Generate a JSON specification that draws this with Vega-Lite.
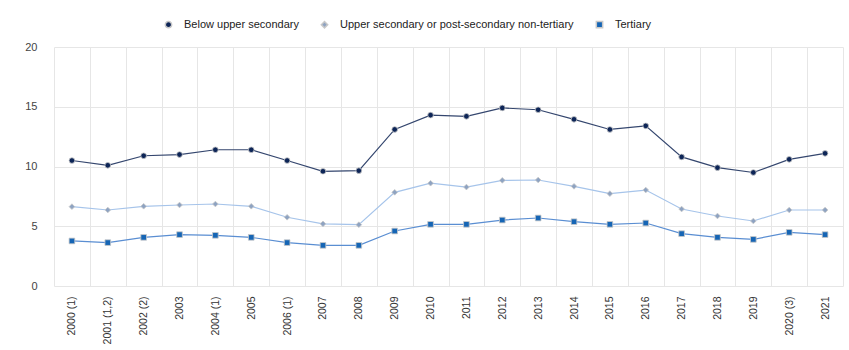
{
  "$schema": "https://vega.github.io/schema/vega-lite/v6.json",
  "width": 789,
  "height": 239,
  "autosize": {"type": "none"},
  "padding": {"left": 54, "top": 47, "right": 6, "bottom": 64},
  "background": "white",
  "config": {
    "view": {"stroke": null},
    "font": "Liberation Sans",
    "axis": {"gridColor": "#e6e6e6", "gridWidth": 1, "domain": false, "ticks": false}
  },
  "data": {
    "values": [
      {"year": "2000 (1)", "series": "Below upper secondary", "value": 10.5},
      {"year": "2001 (1,2)", "series": "Below upper secondary", "value": 10.1},
      {"year": "2002 (2)", "series": "Below upper secondary", "value": 10.9},
      {"year": "2003", "series": "Below upper secondary", "value": 11.0},
      {"year": "2004 (1)", "series": "Below upper secondary", "value": 11.4},
      {"year": "2005", "series": "Below upper secondary", "value": 11.4},
      {"year": "2006 (1)", "series": "Below upper secondary", "value": 10.5},
      {"year": "2007", "series": "Below upper secondary", "value": 9.6},
      {"year": "2008", "series": "Below upper secondary", "value": 9.65},
      {"year": "2009", "series": "Below upper secondary", "value": 13.1},
      {"year": "2010", "series": "Below upper secondary", "value": 14.3},
      {"year": "2011", "series": "Below upper secondary", "value": 14.2},
      {"year": "2012", "series": "Below upper secondary", "value": 14.9},
      {"year": "2013", "series": "Below upper secondary", "value": 14.75},
      {"year": "2014", "series": "Below upper secondary", "value": 13.95},
      {"year": "2015", "series": "Below upper secondary", "value": 13.1},
      {"year": "2016", "series": "Below upper secondary", "value": 13.4},
      {"year": "2017", "series": "Below upper secondary", "value": 10.8},
      {"year": "2018", "series": "Below upper secondary", "value": 9.9},
      {"year": "2019", "series": "Below upper secondary", "value": 9.5},
      {"year": "2020 (3)", "series": "Below upper secondary", "value": 10.6},
      {"year": "2021", "series": "Below upper secondary", "value": 11.1},
      {"year": "2000 (1)", "series": "Upper secondary or post-secondary non-tertiary", "value": 6.64},
      {"year": "2001 (1,2)", "series": "Upper secondary or post-secondary non-tertiary", "value": 6.36},
      {"year": "2002 (2)", "series": "Upper secondary or post-secondary non-tertiary", "value": 6.67},
      {"year": "2003", "series": "Upper secondary or post-secondary non-tertiary", "value": 6.78},
      {"year": "2004 (1)", "series": "Upper secondary or post-secondary non-tertiary", "value": 6.86},
      {"year": "2005", "series": "Upper secondary or post-secondary non-tertiary", "value": 6.67},
      {"year": "2006 (1)", "series": "Upper secondary or post-secondary non-tertiary", "value": 5.75},
      {"year": "2007", "series": "Upper secondary or post-secondary non-tertiary", "value": 5.2},
      {"year": "2008", "series": "Upper secondary or post-secondary non-tertiary", "value": 5.13},
      {"year": "2009", "series": "Upper secondary or post-secondary non-tertiary", "value": 7.84},
      {"year": "2010", "series": "Upper secondary or post-secondary non-tertiary", "value": 8.6},
      {"year": "2011", "series": "Upper secondary or post-secondary non-tertiary", "value": 8.28},
      {"year": "2012", "series": "Upper secondary or post-secondary non-tertiary", "value": 8.84},
      {"year": "2013", "series": "Upper secondary or post-secondary non-tertiary", "value": 8.87},
      {"year": "2014", "series": "Upper secondary or post-secondary non-tertiary", "value": 8.34},
      {"year": "2015", "series": "Upper secondary or post-secondary non-tertiary", "value": 7.73},
      {"year": "2016", "series": "Upper secondary or post-secondary non-tertiary", "value": 8.03},
      {"year": "2017", "series": "Upper secondary or post-secondary non-tertiary", "value": 6.44},
      {"year": "2018", "series": "Upper secondary or post-secondary non-tertiary", "value": 5.86},
      {"year": "2019", "series": "Upper secondary or post-secondary non-tertiary", "value": 5.44},
      {"year": "2020 (3)", "series": "Upper secondary or post-secondary non-tertiary", "value": 6.36},
      {"year": "2021", "series": "Upper secondary or post-secondary non-tertiary", "value": 6.36},
      {"year": "2000 (1)", "series": "Tertiary", "value": 3.77},
      {"year": "2001 (1,2)", "series": "Tertiary", "value": 3.63},
      {"year": "2002 (2)", "series": "Tertiary", "value": 4.07},
      {"year": "2003", "series": "Tertiary", "value": 4.3},
      {"year": "2004 (1)", "series": "Tertiary", "value": 4.24},
      {"year": "2005", "series": "Tertiary", "value": 4.07},
      {"year": "2006 (1)", "series": "Tertiary", "value": 3.63},
      {"year": "2007", "series": "Tertiary", "value": 3.4},
      {"year": "2008", "series": "Tertiary", "value": 3.4},
      {"year": "2009", "series": "Tertiary", "value": 4.6},
      {"year": "2010", "series": "Tertiary", "value": 5.16},
      {"year": "2011", "series": "Tertiary", "value": 5.16},
      {"year": "2012", "series": "Tertiary", "value": 5.52},
      {"year": "2013", "series": "Tertiary", "value": 5.69},
      {"year": "2014", "series": "Tertiary", "value": 5.38},
      {"year": "2015", "series": "Tertiary", "value": 5.16},
      {"year": "2016", "series": "Tertiary", "value": 5.27},
      {"year": "2017", "series": "Tertiary", "value": 4.38},
      {"year": "2018", "series": "Tertiary", "value": 4.07},
      {"year": "2019", "series": "Tertiary", "value": 3.9},
      {"year": "2020 (3)", "series": "Tertiary", "value": 4.49},
      {"year": "2021", "series": "Tertiary", "value": 4.3}
    ]
  },
  "encoding": {
    "x": {
      "field": "year",
      "type": "ordinal",
      "sort": null,
      "scale": {"type": "band", "paddingInner": 0, "paddingOuter": 0},
      "axis": {
        "title": null,
        "labelAngle": -90,
        "grid": true,
        "tickBand": "extent",
        "labelPadding": 10,
        "labelFont": "Liberation Sans Narrow, Liberation Sans",
        "labelFontSize": 10.5,
        "labelColor": "#333333"
      }
    },
    "y": {
      "field": "value",
      "type": "quantitative",
      "scale": {"domain": [0, 20], "nice": false},
      "axis": {
        "title": null,
        "values": [0, 5, 10, 15, 20],
        "labelPadding": 17,
        "labelFontSize": 11,
        "labelColor": "#444444"
      }
    }
  },
  "layer": [
    {
      "mark": {"type": "line", "strokeWidth": 1.2},
      "encoding": {
        "stroke": {
          "field": "series",
          "type": "nominal",
          "scale": {"range": ["#34466e", "#5a8ed2", "#a6c4ea"]},
          "legend": null
        }
      }
    },
    {
      "mark": {
        "type": "point",
        "filled": true,
        "size": 32,
        "stroke": "#c8c8c8",
        "strokeWidth": 0.8,
        "opacity": 1
      },
      "encoding": {
        "fill": {
          "field": "series",
          "type": "nominal",
          "scale": {
            "domain": ["Below upper secondary", "Upper secondary or post-secondary non-tertiary", "Tertiary"],
            "range": ["#0d2557", "#8ea3c2", "#1565b5"]
          },
          "legend": {
            "title": null,
            "orient": "none",
            "legendX": 109,
            "legendY": -28,
            "direction": "horizontal",
            "columnPadding": 19,
            "labelOffset": 10,
            "labelFontSize": 11,
            "labelColor": "#222222",
            "symbolSize": 40,
            "labelLimit": 400
          }
        },
        "shape": {
          "field": "series",
          "type": "nominal",
          "scale": {
            "domain": ["Below upper secondary", "Upper secondary or post-secondary non-tertiary", "Tertiary"],
            "range": ["circle", "diamond", "square"]
          }
        }
      }
    }
  ]
}
